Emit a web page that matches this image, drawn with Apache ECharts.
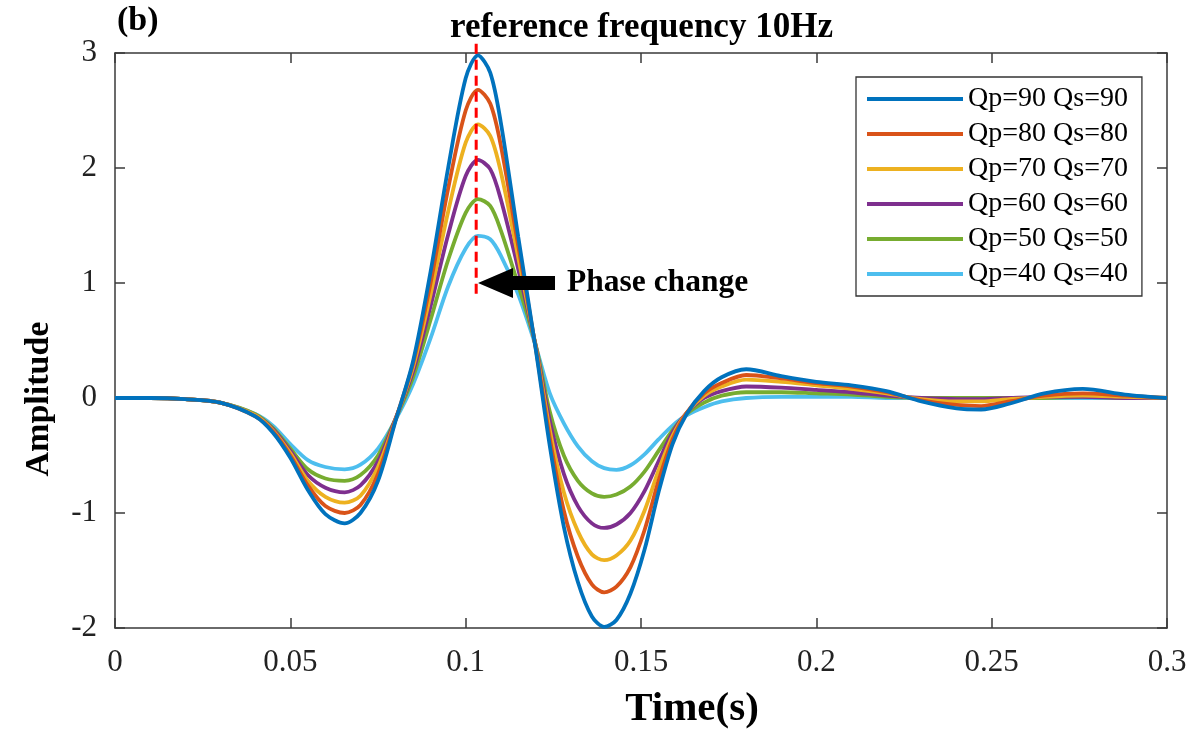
<!DOCTYPE html>
<html>
<head>
<meta charset="utf-8">
<script src="https://cdn.jsdelivr.net/npm/echarts@6/dist/echarts.min.js"></script>
<style>html,body{margin:0;padding:0;background:#fff}#c{width:1204px;height:735px}</style>
</head>
<body>
<div id="c"></div>
<script>
// ---- data ----
const time = [0, 0.01, 0.02, 0.03, 0.04, 0.045, 0.05, 0.055, 0.06, 0.0655, 0.07, 0.075, 0.08, 0.085, 0.09, 0.095, 0.1, 0.1035, 0.107, 0.11, 0.115, 0.12, 0.124, 0.128, 0.132, 0.136, 0.1395, 0.143, 0.147, 0.151, 0.155, 0.159, 0.163, 0.168, 0.173, 0.18, 0.19, 0.2, 0.21, 0.22, 0.23, 0.24, 0.247, 0.255, 0.265, 0.276, 0.288, 0.3];
const q90 = [0, 0, -0.01, -0.04, -0.16, -0.3, -0.52, -0.8, -1.01, -1.09, -1.0, -0.72, -0.2, 0.32, 1.1, 2.0, 2.78, 2.98, 2.83, 2.4, 1.4, 0.42, -0.42, -1.12, -1.6, -1.9, -1.99, -1.93, -1.7, -1.32, -0.82, -0.4, -0.14, 0.06, 0.18, 0.25, 0.19, 0.14, 0.11, 0.06, -0.03, -0.09, -0.1, -0.05, 0.04, 0.08, 0.03, 0];
const q80 = [0, 0, -0.01, -0.04, -0.16, -0.29, -0.5, -0.76, -0.94, -1.0, -0.93, -0.66, -0.19, 0.3, 1.0, 1.82, 2.5, 2.68, 2.56, 2.2, 1.32, 0.43, -0.35, -0.98, -1.38, -1.62, -1.69, -1.64, -1.47, -1.15, -0.72, -0.36, -0.13, 0.04, 0.13, 0.2, 0.17, 0.13, 0.1, 0.05, -0.02, -0.06, -0.07, -0.03, 0.02, 0.04, 0.02, 0];
const q70 = [0, 0, -0.01, -0.04, -0.15, -0.28, -0.48, -0.72, -0.86, -0.91, -0.85, -0.6, -0.19, 0.27, 0.9, 1.62, 2.22, 2.38, 2.28, 1.97, 1.22, 0.44, -0.28, -0.82, -1.16, -1.36, -1.41, -1.37, -1.24, -0.98, -0.63, -0.33, -0.13, 0.02, 0.1, 0.16, 0.14, 0.11, 0.08, 0.04, -0.01, -0.03, -0.03, -0.01, 0.01, 0.02, 0.01, 0];
const q60 = [0, 0, -0.01, -0.04, -0.15, -0.27, -0.46, -0.67, -0.78, -0.82, -0.76, -0.55, -0.18, 0.23, 0.8, 1.42, 1.93, 2.07, 1.99, 1.73, 1.12, 0.45, -0.2, -0.66, -0.94, -1.09, -1.13, -1.1, -1.0, -0.81, -0.55, -0.3, -0.13, 0.0, 0.06, 0.1, 0.09, 0.07, 0.05, 0.02, 0, -0.01, -0.01, 0, 0.01, 0.01, 0, 0];
const q50 = [0, 0, -0.01, -0.04, -0.14, -0.26, -0.44, -0.62, -0.7, -0.72, -0.67, -0.5, -0.18, 0.18, 0.68, 1.2, 1.61, 1.73, 1.67, 1.46, 0.98, 0.46, -0.12, -0.5, -0.72, -0.83, -0.86, -0.84, -0.77, -0.64, -0.46, -0.28, -0.14, -0.04, 0.02, 0.05, 0.05, 0.04, 0.03, 0.01, 0, 0, 0, 0, 0, 0.01, 0, 0];
const q40 = [0, 0, -0.01, -0.04, -0.14, -0.24, -0.4, -0.54, -0.6, -0.62, -0.58, -0.44, -0.19, 0.12, 0.52, 0.97, 1.3, 1.41, 1.38, 1.24, 0.9, 0.45, 0.04, -0.22, -0.42, -0.55, -0.61, -0.625, -0.585, -0.49, -0.36, -0.24, -0.15, -0.08, -0.03, 0.0, 0.01, 0.01, 0.01, 0, 0, 0, 0, 0, 0, 0, 0, 0];
const seriesNames = ['Qp=90 Qs=90', 'Qp=80 Qs=80', 'Qp=70 Qs=70', 'Qp=60 Qs=60', 'Qp=50 Qs=50', 'Qp=40 Qs=40'];
const seriesValues = [q90, q80, q70, q60, q50, q40];
const colors = ['#0072BD', '#D95319', '#EDB120', '#7E2F8E', '#77AC30', '#4DBEEE'];
const refLine = [[0.103, 3.08], [0.103, 0.88]];
const arrowPoint = [[0.1145, 1.0]];
const xTicks = { min: 0, max: 0.3, interval: 0.05 };
const yTicks = { min: -2, max: 3, interval: 1 };

// ---- chart ----
const FONT = 'Liberation Serif';
const chart = echarts.init(document.getElementById('c'), null, { renderer: 'canvas' });
const axisLine = { show: true, onZero: false, lineStyle: { color: '#3a3a3a', width: 1.5 } };
const axisTick = { show: true, inside: true, length: 10, lineStyle: { color: '#3a3a3a', width: 1.5 } };

const lineSeries = seriesNames.map((n, k) => ({
  name: n,
  type: 'line',
  data: time.map((t, i) => [t, seriesValues[k][i]]),
  smooth: 0.3,
  showSymbol: false,
  symbol: 'none',
  lineStyle: { width: 3.8, color: colors[k] },
  itemStyle: { color: colors[k] },
  z: 10 - k
}));

chart.setOption({
  animation: false,
  backgroundColor: '#fff',
  title: {
    text: 'reference frequency 10Hz',
    left: 450, top: 10, padding: 0,
    textStyle: { fontFamily: FONT, fontWeight: 'bold', fontSize: 35, color: '#000' }
  },
  graphic: [{
    type: 'text', left: 117, top: 4,
    style: { text: '(b)', font: 'bold 34px "Liberation Serif"', fill: '#000' }
  }, {
    type: 'text', x: 39, y: 399, rotation: Math.PI / 2,
    style: { text: 'Amplitude', font: 'bold 34px "Liberation Serif"', fill: '#000', align: 'center', verticalAlign: 'middle' }
  }, {
    type: 'text', x: 692, y: 709,
    style: { text: 'Time(s)', font: 'bold 41px "Liberation Serif"', fill: '#000', align: 'center', verticalAlign: 'middle' }
  }],
  grid: { left: 115, right: 37, top: 53, bottom: 107, containLabel: false },
  legend: {
    data: seriesNames,
    orient: 'vertical',
    left: 856, top: 77,
    padding: [7, 14, 7, 11],
    itemGap: 5,
    itemWidth: 96, itemHeight: 4,
    icon: 'rect',
    backgroundColor: '#fff',
    borderColor: '#333', borderWidth: 1.3, borderRadius: 0,
    textStyle: { fontFamily: FONT, fontSize: 28, color: '#000', lineHeight: 30 }
  },
  xAxis: [{
    type: 'value', min: xTicks.min, max: xTicks.max, interval: xTicks.interval,
    position: 'bottom',
    axisLine, axisTick,
    axisLabel: { fontFamily: FONT, fontSize: 31, color: '#222', margin: 19 },
    splitLine: { show: false }
  }, {
    type: 'value', min: xTicks.min, max: xTicks.max, interval: xTicks.interval,
    position: 'top', axisLine, axisTick, axisLabel: { show: false }, splitLine: { show: false }
  }],
  yAxis: [{
    type: 'value', min: yTicks.min, max: yTicks.max, interval: yTicks.interval,
    position: 'left',
    axisLine, axisTick,
    axisLabel: { fontFamily: FONT, fontSize: 31, color: '#222', margin: 18 },
    splitLine: { show: false }
  }, {
    type: 'value', min: yTicks.min, max: yTicks.max, interval: yTicks.interval,
    position: 'right', axisLine, axisTick, axisLabel: { show: false }, splitLine: { show: false }
  }],
  series: lineSeries.concat([
    {
      name: 'ref', type: 'line', data: refLine, clip: false, showSymbol: false, symbol: 'none',
      lineStyle: { color: '#ff0000', width: 3, type: [10, 6] }, z: 20, silent: true
    },
    {
      name: 'arrow', type: 'scatter', data: arrowPoint, clip: false,
      symbol: 'path://M0,15 L35,0 L35,8 L77,8 L77,22 L35,22 L35,30 Z',
      symbolSize: [77, 30], symbolKeepAspect: false,
      itemStyle: { color: '#000', opacity: 1 }, z: 21, silent: true,
      label: {
        show: true, position: 'right', distance: 12,
        formatter: 'Phase change',
        fontFamily: FONT, fontWeight: 'bold', fontSize: 31.5, color: '#000'
      }
    }
  ])
});
</script>
</body>
</html>
